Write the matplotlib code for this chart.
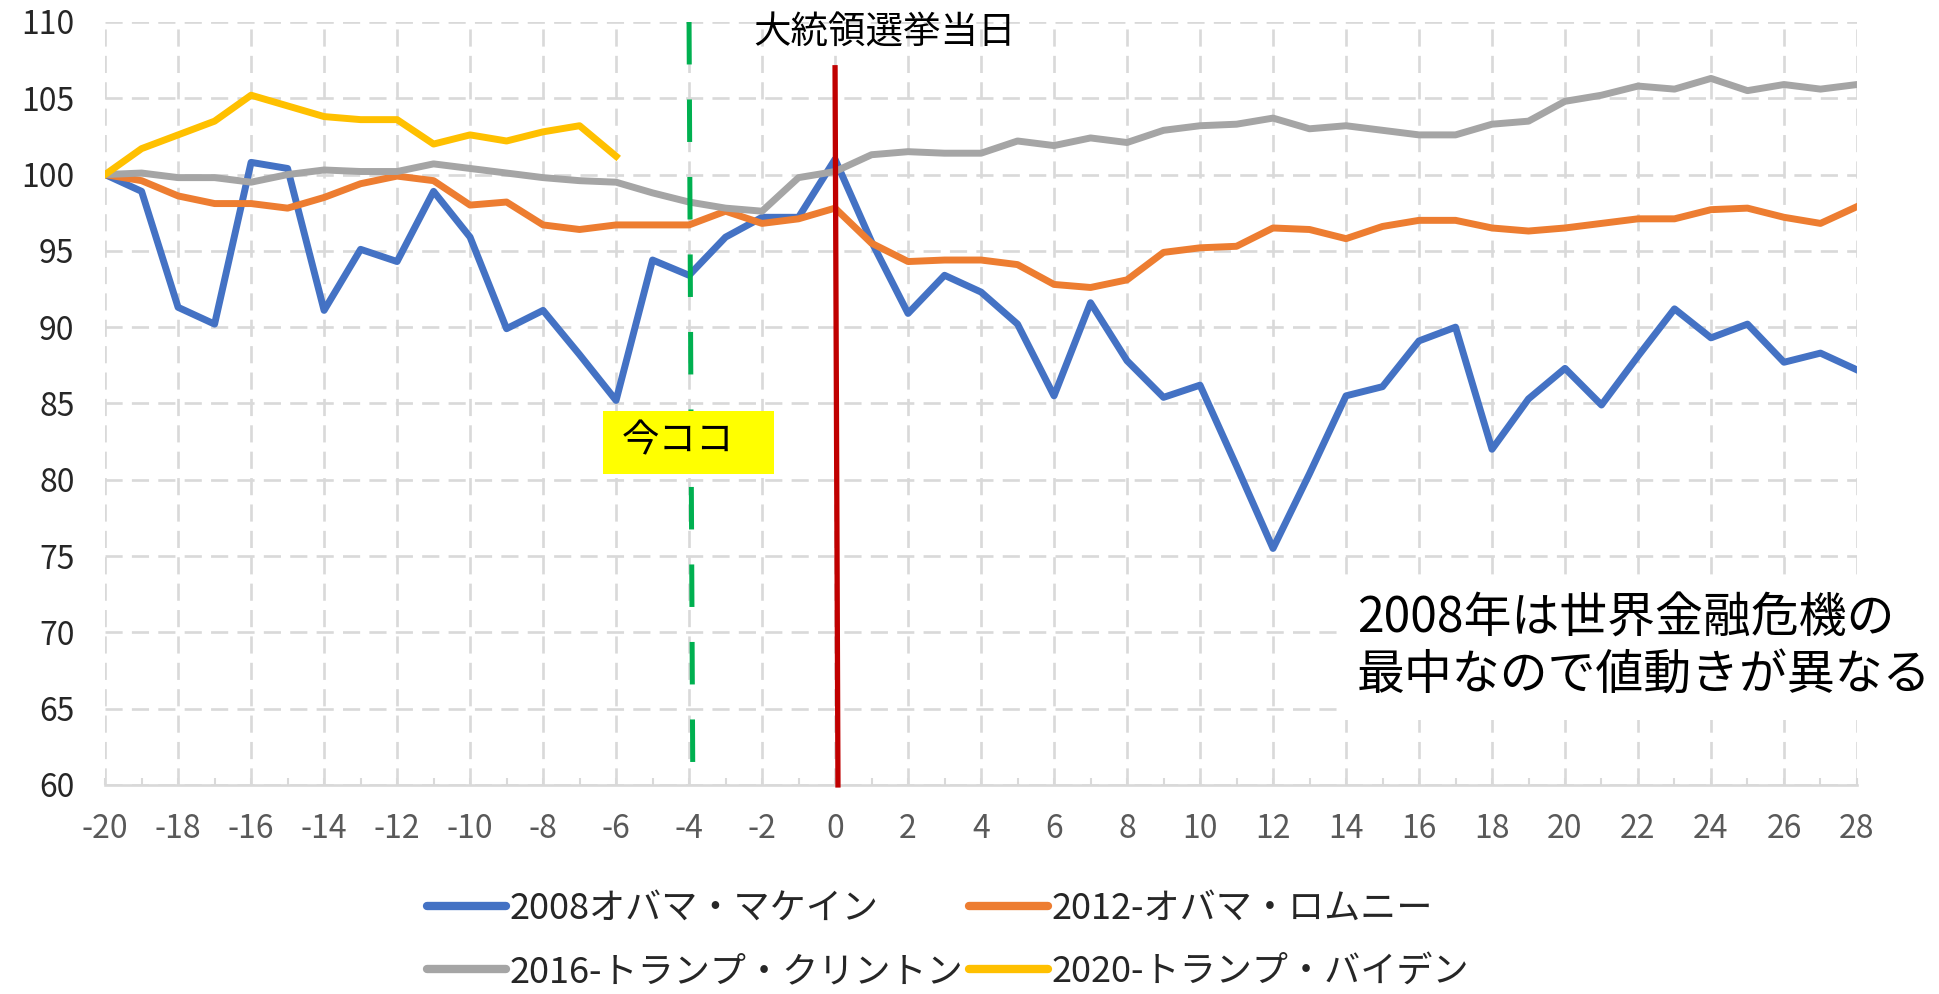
import matplotlib
matplotlib.use("Agg")
import matplotlib.pyplot as plt
from matplotlib.patches import Rectangle
from matplotlib.ticker import MultipleLocator

plt.rcParams['font.family'] = ['Noto Sans CJK JP', 'DejaVu Sans']
plt.rcParams['axes.unicode_minus'] = False

# === DATA ===
weeks = list(range(-20, 29))
weeks_2020 = list(range(-20, -5))

obama_mccain_2008 = [100, 98.9, 91.3, 90.2, 100.8, 100.4, 91.1, 95.1, 94.3, 98.9,
                     95.9, 89.9, 91.1, 88.2, 85.2, 94.4, 93.4, 95.9, 97.2, 97.2,
                     101.0, 95.6, 90.9, 93.4, 92.3, 90.2, 85.5, 91.6, 87.8, 85.4,
                     86.2, 80.9, 75.5, 80.4, 85.5, 86.1, 89.1, 90.0, 82.0, 85.3,
                     87.3, 84.9, 88.1, 91.2, 89.3, 90.2, 87.7, 88.3, 87.2]
obama_romney_2012 = [100, 99.6, 98.6, 98.1, 98.1, 97.8, 98.5, 99.4, 99.9, 99.6,
                     98.0, 98.2, 96.7, 96.4, 96.7, 96.7, 96.7, 97.6, 96.8, 97.1,
                     97.8, 95.5, 94.3, 94.4, 94.4, 94.1, 92.8, 92.6, 93.1, 94.9,
                     95.2, 95.3, 96.5, 96.4, 95.8, 96.6, 97.0, 97.0, 96.5, 96.3,
                     96.5, 96.8, 97.1, 97.1, 97.7, 97.8, 97.2, 96.8, 97.9]
trump_clinton_2016 = [100, 100.1, 99.8, 99.8, 99.5, 100.0, 100.3, 100.2, 100.2, 100.7,
                      100.4, 100.1, 99.8, 99.6, 99.5, 98.8, 98.2, 97.8, 97.6, 99.8,
                      100.2, 101.3, 101.5, 101.4, 101.4, 102.2, 101.9, 102.4, 102.1, 102.9,
                      103.2, 103.3, 103.7, 103.0, 103.2, 102.9, 102.6, 102.6, 103.3, 103.5,
                      104.8, 105.2, 105.8, 105.6, 106.3, 105.5, 105.9, 105.6, 105.9]
trump_biden_2020 = [100, 101.7, 102.6, 103.5, 105.2, 104.5, 103.8, 103.6, 103.6, 102.0,
                    102.6, 102.2, 102.8, 103.2, 101.2]

series_labels = ['2008オバマ・マケイン', '2012-オバマ・ロムニー',
                 '2016-トランプ・クリントン', '2020-トランプ・バイデン']

election_day = 0
now_week = -4

# === FIGURE ===
fig = plt.figure(figsize=(19.39, 9.94), dpi=100)
ax = fig.add_axes([0.0542, 0.2103, 0.9035, 0.7676])

grid_col = '#d9d9d9'
ax.set_xlim(-20, 28)
ax.set_ylim(60, 110)
ax.xaxis.set_major_locator(MultipleLocator(2))
ax.xaxis.set_minor_locator(MultipleLocator(1))
ax.yaxis.set_major_locator(MultipleLocator(5))
ax.grid(True, which='major', color=grid_col, linewidth=1.9, linestyle=(0, (6.5, 3.5)))
ax.set_axisbelow(True)
for s in ['top', 'right', 'left']:
    ax.spines[s].set_visible(False)
ax.spines['bottom'].set_color(grid_col)
ax.spines['bottom'].set_linewidth(1.9)

ax.tick_params(axis='x', which='both', direction='in', length=5, width=1.5,
               color=grid_col, labelsize=23, labelcolor='#595959', pad=20)
ax.tick_params(axis='y', which='both', length=0, labelsize=23,
               labelcolor='#262626', pad=22)

# === SERIES ===
lines = []
for xs, ys, col, lab in [(weeks, obama_mccain_2008, '#4472c4', series_labels[0]),
                         (weeks, obama_romney_2012, '#ed7d31', series_labels[1]),
                         (weeks, trump_clinton_2016, '#a5a5a5', series_labels[2]),
                         (weeks_2020, trump_biden_2020, '#ffc000', series_labels[3])]:
    ln, = ax.plot(xs, ys, color=col, lw=5.0, label=lab, solid_joinstyle='round', zorder=3)
    lines.append(ln)

# election day / now markers
ax.plot([election_day, election_day + 0.08], [107.0, 60], color='#c00000', lw=3.8,
        zorder=5, clip_on=False)
ax.plot([now_week, now_week + 0.1], [110, 61.5], color='#00b050', lw=3.6,
        linestyle=(0, (8.5, 7)), zorder=5)

ax.add_patch(Rectangle((-6.36, 80.4), 4.69, 4.1, facecolor='#ffff00',
                       edgecolor='none', zorder=6))
ax.text(-5.85, 82.55, '今ココ', fontsize=27, ha='left', va='center',
        color='black', zorder=7)

ax.text(-2.25, 109.3, '大統領選挙当日', fontsize=27, ha='left', va='center',
        color='black', zorder=7, clip_on=False)

ax.text(14.3, 69.0, '2008年は世界金融危機の\n最中なので値動きが異なる', fontsize=34.5,
        ha='left', va='center', linespacing=1.2, color='black', zorder=7,
        bbox=dict(boxstyle='square,pad=0.4', facecolor='white', edgecolor='none'))

# === LEGEND === (row-wise order like the original)
order = [0, 2, 1, 3]
leg = fig.legend([lines[i] for i in order], [series_labels[i] for i in order],
                 loc='center', bbox_to_anchor=(0.489, 0.054), ncol=2,
                 frameon=False, fontsize=26, handlelength=2.2, handletextpad=0.1,
                 columnspacing=0.15, labelspacing=0.75)
for line in leg.get_lines():
    line.set_linewidth(6)
    line.set_solid_capstyle('round')
for t in leg.get_texts():
    t.set_color('#262626')

fig.savefig('out.png', dpi=100)
